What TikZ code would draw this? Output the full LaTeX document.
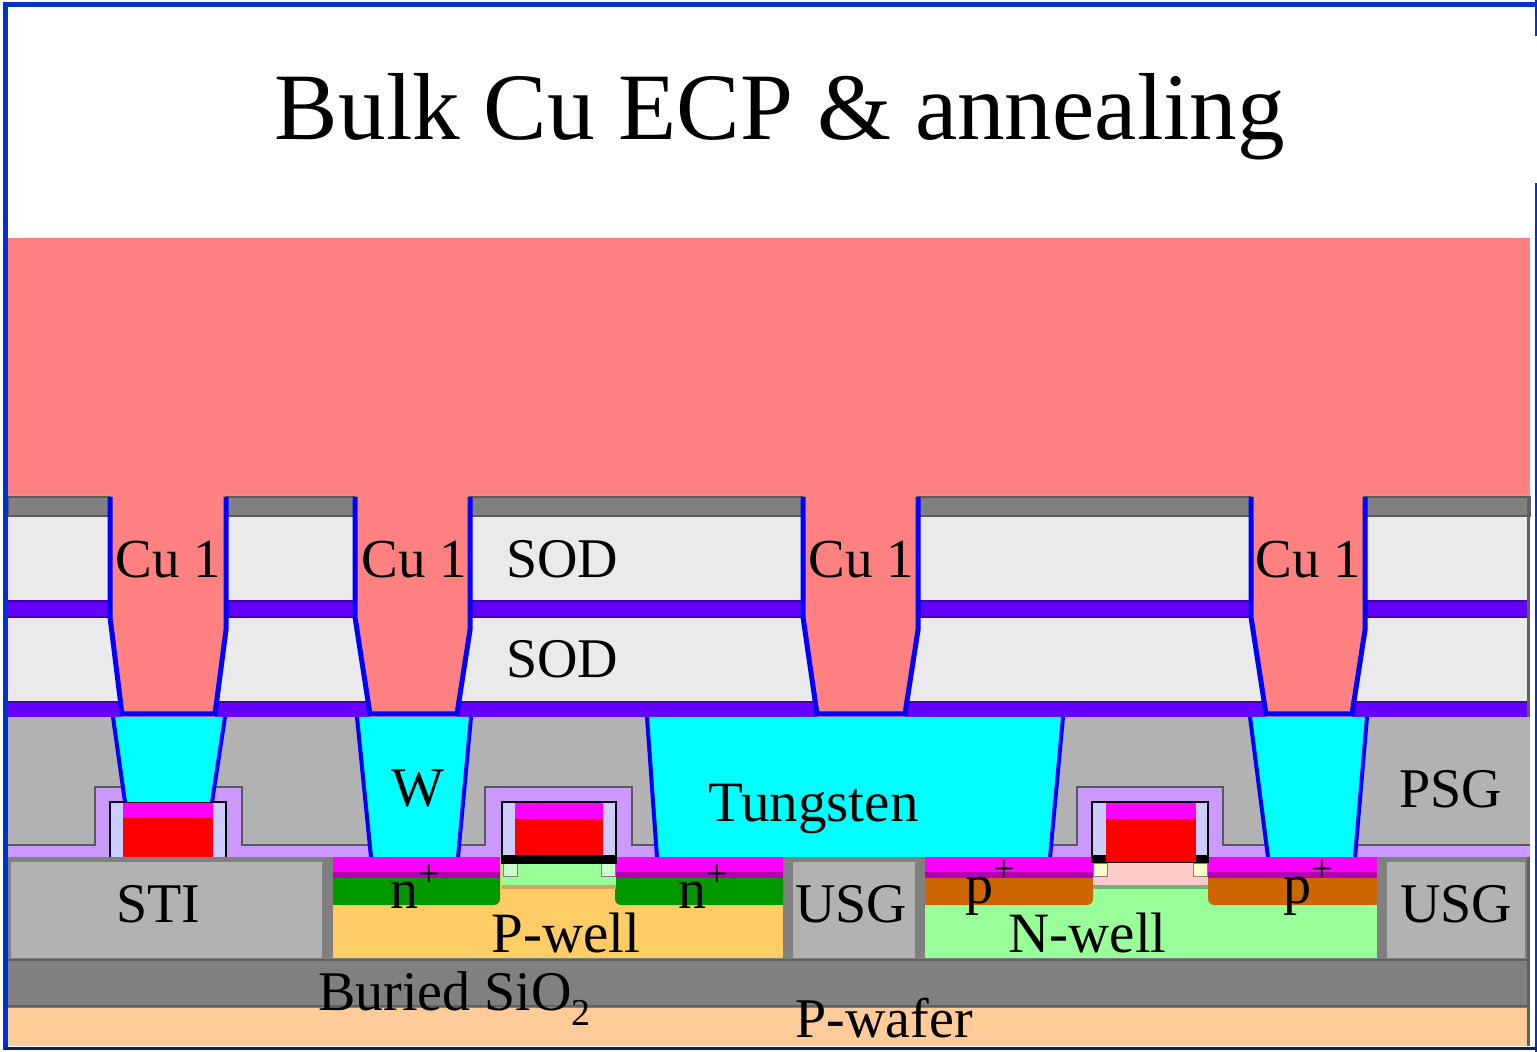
\documentclass[tikz,border=0pt]{standalone}
\usepackage{fontspec}
\setmainfont{Liberation Serif}
\definecolor{cu}{HTML}{FF8080}
\definecolor{sod}{HTML}{EAEAEA}
\definecolor{cap}{HTML}{808080}
\definecolor{capline}{HTML}{5C5C5C}
\definecolor{etch}{HTML}{6600FF}
\definecolor{etchline}{HTML}{4400AA}
\definecolor{barrier}{HTML}{0000FF}
\definecolor{psg}{HTML}{B2B2B2}
\definecolor{wfill}{HTML}{00FFFF}
\definecolor{liner}{HTML}{CC99FF}
\definecolor{spacer}{HTML}{CCCCFF}
\definecolor{poly}{HTML}{FF0000}
\definecolor{sil}{HTML}{FF00FF}
\definecolor{sildark}{HTML}{B000B0}
\definecolor{nplus}{HTML}{009900}
\definecolor{pwell}{HTML}{FFCC66}
\definecolor{pwelledge}{HTML}{D4A25A}
\definecolor{nwell}{HTML}{99FF99}
\definecolor{nwelledge}{HTML}{6FB56F}
\definecolor{pplus}{HTML}{CC6600}
\definecolor{nchan}{HTML}{99FF99}
\definecolor{pchan}{HTML}{FFCCCC}
\definecolor{nldd}{HTML}{CCFFCC}
\definecolor{pldd}{HTML}{FFFFCC}
\definecolor{oxide}{HTML}{808080}
\definecolor{oxline}{HTML}{606060}
\definecolor{wafer}{HTML}{FFCC99}
\definecolor{frame}{HTML}{0033CC}
\definecolor{frameb}{HTML}{102050}
\begin{document}
\begin{tikzpicture}[x=0.5pt,y=-0.5pt,
  lbl/.style={font=\fontsize{28}{30}\selectfont, inner sep=0pt, anchor=base west},
  cul/.style={lbl, font=\fontsize{27.5}{30}\selectfont},
  wide/.style={lbl, font=\fontsize{28.5}{30}\selectfont},
  wall/.style={barrier, line width=2.5pt, line join=miter},
  plugside/.style={barrier, line width=2pt},
  gateline/.style={black, line width=1pt}]
\useasboundingbox (0,0) rectangle (1537,1052);
\fill[white] (0,0) rectangle (1537,1052);

% electroplated copper overburden
\fill[cu] (8,238) rectangle (1530,717);

% dielectric stacks between the Cu 1 trenches: top-left, top-right, bottom-left, bottom-right x
\foreach \a/\b/\c/\d in {8/110/8/122, 226/355/215/370, 470/803/457/817, 918/1251/905/1266, 1365/1530/1352/1530} {
  \fill[sod] (\a,496) -- (\b,496) -- (\b,617) -- (\d,702) -- (\c,702) -- (\a,630) -- cycle;
  \fill[etch] (\a,601) rectangle (\b,617);
  \draw[etchline, line width=0.6pt] (\a,601) -- (\b,601) (\a,617) -- (\b,617);
  \fill[etch] (\c,702) rectangle (\d,717);
  \draw[etchline, line width=0.6pt] (\c,702) -- (\d,702);
  \filldraw[fill=cap, draw=capline, line width=1pt] (\a,497) rectangle (\b,516);
}

% barrier lining of the trenches
\foreach \a/\b/\c/\d in {110/226/122/215, 355/470/370/457, 803/918/817/905, 1251/1365/1266/1352} {
  \draw[wall] (\a,497) -- (\a,617) -- (\c,714) -- (\d,714) -- (\b,630) -- (\b,497);
}

% silicon / isolation level
\fill[oxide] (8,857) rectangle (1530,1008);
\fill[psg] (11,862) rectangle (322,958);
\fill[psg] (793,862) rectangle (915,958);
\fill[psg] (1387,862) rectangle (1525,958);
\fill[pwell] (333,857) rectangle (783,958);
\fill[nwell] (925,857) rectangle (1377,958);
\draw[oxline, line width=1.2pt] (8,960) -- (1530,960);
\draw[oxline, line width=1.2pt] (8,1006) -- (1530,1006);
\fill[wafer] (8,1008) rectangle (1530,1046);
\draw[oxline, line width=1.5pt] (1528,497) -- (1528,1046);

% NMOS source/drain
\fill[nplus, rounded corners=3pt] (333,865) rectangle (500,905);
\fill[nplus] (333,865) rectangle (420,905);
\fill[nplus, rounded corners=3pt] (615,865) rectangle (783,905);
\fill[nplus] (700,865) rectangle (783,905);
\fill[sil] (333,857) rectangle (500,873);
\fill[sildark] (333,872) rectangle (500,878);
\fill[sil] (615,857) rectangle (783,873);
\fill[sildark] (615,872) rectangle (783,878);
\fill[nchan] (502,863) rectangle (616,886);
\fill[pwelledge] (502,885) rectangle (616,889);
\filldraw[fill=nldd, draw=gray, line width=0.4pt] (503,863) rectangle (517,876);
\filldraw[fill=nldd, draw=gray, line width=0.4pt] (601,863) rectangle (615,876);

% PMOS source/drain
\fill[pplus, rounded corners=3pt] (925,865) rectangle (1093,905);
\fill[pplus] (925,865) rectangle (1010,905);
\fill[pplus, rounded corners=3pt] (1208,865) rectangle (1377,905);
\fill[pplus] (1290,865) rectangle (1377,905);
\fill[sil] (925,857) rectangle (1093,873);
\fill[sildark] (925,872) rectangle (1093,878);
\fill[sil] (1208,857) rectangle (1377,873);
\fill[sildark] (1208,872) rectangle (1377,878);
\fill[pchan] (1093,863) rectangle (1208,886);
\fill[nwelledge] (1093,885) rectangle (1208,889);
\filldraw[fill=pldd, draw=gray, line width=0.4pt] (1093,863) rectangle (1107,876);
\filldraw[fill=pldd, draw=gray, line width=0.4pt] (1193,863) rectangle (1207,876);

% pre-metal dielectric and contact-etch liner
\fill[psg] (8,717) rectangle (1530,857);
\fill[liner] (8,845) -- (95,845) -- (95,787) -- (242,787) -- (242,845) -- (485,845) -- (485,787)
  -- (632,787) -- (632,845) -- (1077,845) -- (1077,787) -- (1223,787) -- (1223,845) -- (1530,845)
  -- (1530,857) -- (8,857) -- cycle;
\draw[black!65, line width=0.7pt] (8,845) -- (95,845) -- (95,787) -- (242,787) -- (242,845) -- (485,845) -- (485,787)
  -- (632,787) -- (632,845) -- (1077,845) -- (1077,787) -- (1223,787) -- (1223,845) -- (1530,845);

% gate over STI
\fill[spacer] (110,802) rectangle (226,857);
\fill[poly] (123,818) rectangle (213,857);
\fill[sil] (123,802) rectangle (213,818);
\draw[gateline] (110,857) -- (110,802) -- (226,802) -- (226,857);

% NMOS gate
\fill[black] (502,855) rectangle (616,864);
\fill[spacer] (502,802) rectangle (616,855);
\fill[poly] (515,819) rectangle (603,855);
\fill[sil] (515,802) rectangle (603,819);
\draw[gateline] (502,864) -- (502,802) -- (616,802) -- (616,864);

% PMOS gate
\fill[black] (1092,855) rectangle (1208,863);
\fill[spacer] (1092,802) rectangle (1208,855);
\fill[poly] (1106,819) rectangle (1196,862);
\fill[sil] (1106,802) rectangle (1196,819);
\draw[gateline] (1092,863) -- (1092,802) -- (1208,802) -- (1208,863);

% tungsten plugs: top-left, top-right, bottom-left, bottom-right, bottom y
\foreach \a/\b/\c/\d/\y in {113/225/125/212/802, 357/471/371/458/857, 647/1063/657/1050/857, 1250/1367/1268/1355/857} {
  \fill[wfill] (\a,717) -- (\b,717) -- (\d,\y) -- (\c,\y) -- cycle;
  \draw[plugside] (\a,717) -- (\c,\y);
  \draw[plugside] (\b,717) -- (\d,\y);
}

% frame
\draw[frame, line width=2.5pt] (5.5,2) -- (5.5,1050);
\draw[frame, line width=2.5pt] (3,4.5) -- (1537,4.5);
\draw[frame, line width=1pt] (1536,0) -- (1536,36);
\draw[frame, line width=1pt] (1536,183) -- (1536,1052);
\draw[frameb, line width=1.5pt] (5,1048.5) -- (1537,1048.5);

% labels
\node[inner sep=0pt, anchor=base, font=\fontsize{47.6}{50}\selectfont] (title) at (780,140) {Bulk Cu ECP \& annealing};
\node[cul] (cu1) at (115,578) {Cu 1};
\node[cul] (cu2) at (361,578) {Cu 1};
\node[cul] (cu3) at (808,578) {Cu 1};
\node[cul] (cu4) at (1255,578) {Cu 1};
\node[lbl] (sodtop) at (506,578) {SOD};
\node[lbl] (sodbot) at (506,678) {SOD};
\node[lbl] (wlab) at (391,807) {W};
\node[wide] (tung) at (708,822) {Tungsten};
\node[lbl] (psglab) at (1399,808) {PSG};
\node[lbl] (sti) at (116,922) {STI};
\node[lbl] (nleft) at (390,908) {n\raisebox{11pt}{\fontsize{19}{20}\selectfont +}};
\node[lbl] (nright) at (678,908) {n\raisebox{11pt}{\fontsize{19}{20}\selectfont +}};
\node[wide] (pwlab) at (491,952) {P-well};
\node[lbl] (usg1) at (795,922) {USG};
\node[lbl] (pleft) at (965,903) {p\raisebox{11pt}{\fontsize{19}{20}\selectfont +}};
\node[lbl] (pright) at (1283,903) {p\raisebox{11pt}{\fontsize{19}{20}\selectfont +}};
\node[wide] (nwlab) at (1008,952) {N-well};
\node[lbl] (usg2) at (1400,922) {USG};
\node[lbl] (box) at (318,1010) {Buried SiO\raisebox{-7.5pt}{\fontsize{19}{20}\selectfont 2}};
\node[lbl] (wafer) at (795,1037) {P-wafer};
\end{tikzpicture}
\end{document}
